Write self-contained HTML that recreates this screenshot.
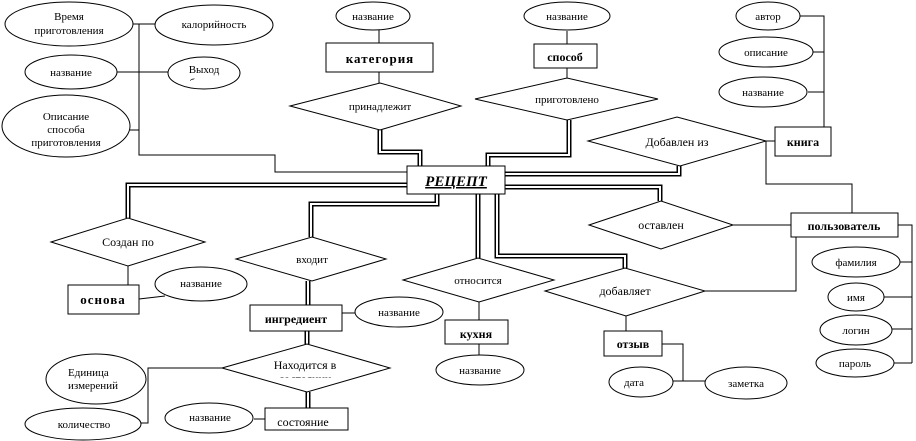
<!DOCTYPE html>
<html><head><meta charset="utf-8"><style>
html,body{margin:0;padding:0;background:#fff}
svg{display:block}
text{font-family:"Liberation Serif","DejaVu Serif",serif;font-size:11px;fill:#000}
.b{font-weight:bold;font-size:12px}
</style></head><body>
<svg width="916" height="441" viewBox="0 0 916 441" xmlns="http://www.w3.org/2000/svg">
<defs><clipPath id="c1"><rect x="0" y="0" width="916" height="378"/></clipPath>
<clipPath id="c2"><rect x="0" y="0" width="916" height="426"/></clipPath>
<clipPath id="c3"><rect x="0" y="0" width="916" height="81"/></clipPath></defs>
<g fill="none" stroke="#000" stroke-width="1">
<polyline points="133,24 155,24"/>
<polyline points="117,72 168,72"/>
<polyline points="130,130 139,130"/>
<polyline points="139,24 139,155 275,155 275,172 407,172"/>
<line x1="379" y1="30" x2="379" y2="43"/><line x1="379" y1="72" x2="379" y2="83"/>
<line x1="567" y1="31" x2="567" y2="44"/><line x1="567" y1="68" x2="567" y2="78"/>
<polyline points="800,16 824,16 824,127"/><line x1="813" y1="52" x2="824" y2="52"/><line x1="808" y1="92" x2="824" y2="92"/>
<line x1="766" y1="141" x2="775" y2="141"/>
<polyline points="766,141 766,184 852,184 852,213"/>
<line x1="733" y1="225" x2="792" y2="225"/>
<polyline points="898,225 912,225 912,363"/>
<line x1="900" y1="262" x2="912" y2="262"/><line x1="884" y1="297" x2="912" y2="297"/><line x1="892" y1="329" x2="912" y2="329"/><line x1="894" y1="363" x2="912" y2="363"/>
<polyline points="796,237 796,291 705,291"/>
<line x1="626" y1="316" x2="626" y2="331"/>
<polyline points="662,344 683,344 683,381"/><line x1="673" y1="381" x2="705" y2="381"/>
<line x1="479" y1="302" x2="479" y2="320"/><line x1="479" y1="344" x2="479" y2="355"/>
<line x1="128" y1="266" x2="128" y2="285"/><line x1="139" y1="299" x2="165" y2="296"/>
<line x1="342" y1="313" x2="355" y2="313"/>
<polyline points="222,368 148,368 148,423 141,423"/>
<line x1="254" y1="419" x2="265" y2="419"/>
</g>
<g fill="none" stroke="#000" stroke-width="5">
<polyline points="380,130 380,152 420,152 420,166"/>
<polyline points="569,120 569,155 488,155 488,166"/>
<polyline points="679,166 679,174 505,174"/>
<polyline points="505,187 660,187 660,201"/>
<polyline points="407,185 128,185 128,218"/>
<polyline points="437,194 437,204 311,204 311,237"/>
<polyline points="478,194 478,258"/>
<polyline points="497,194 497,256 625,256 625,268"/>
<line x1="308" y1="281" x2="308" y2="305"/>
<line x1="307" y1="331" x2="307" y2="344"/>
<line x1="308" y1="392" x2="308" y2="408"/>
</g>
<g fill="none" stroke="#fff" stroke-width="2">
<polyline points="380,130 380,152 420,152 420,166"/>
<polyline points="569,120 569,155 488,155 488,166"/>
<polyline points="679,166 679,174 505,174"/>
<polyline points="505,187 660,187 660,201"/>
<polyline points="407,185 128,185 128,218"/>
<polyline points="437,194 437,204 311,204 311,237"/>
<polyline points="478,194 478,258"/>
<polyline points="497,194 497,256 625,256 625,268"/>
<line x1="308" y1="281" x2="308" y2="305"/>
<line x1="307" y1="331" x2="307" y2="344"/>
<line x1="308" y1="392" x2="308" y2="408"/>
</g>
<g fill="#fff" stroke="#000" stroke-width="1">
<ellipse cx="69" cy="24" rx="64" ry="22"/>
<ellipse cx="214" cy="25" rx="59" ry="20"/>
<ellipse cx="71" cy="72" rx="46" ry="17"/>
<ellipse cx="204" cy="73" rx="36" ry="16"/>
<ellipse cx="66" cy="126" rx="64" ry="31"/>
<ellipse cx="373" cy="16" rx="37" ry="14"/>
<ellipse cx="567" cy="16" rx="43" ry="14"/>
<ellipse cx="768" cy="16" rx="32" ry="14"/>
<ellipse cx="766" cy="52" rx="47" ry="15"/>
<ellipse cx="763" cy="92" rx="44" ry="15"/>
<ellipse cx="856" cy="262" rx="44" ry="15"/>
<ellipse cx="856" cy="297" rx="28" ry="14"/>
<ellipse cx="856" cy="330" rx="36" ry="15"/>
<ellipse cx="855" cy="363" rx="39" ry="14"/>
<ellipse cx="641" cy="382" rx="32" ry="15"/>
<ellipse cx="746" cy="383" rx="41" ry="16"/>
<ellipse cx="480" cy="370" rx="44" ry="15"/>
<ellipse cx="201" cy="284" rx="46" ry="17"/>
<ellipse cx="399" cy="312" rx="44" ry="15"/>
<ellipse cx="96" cy="379" rx="50" ry="25"/>
<ellipse cx="83" cy="424" rx="58" ry="16"/>
<ellipse cx="209" cy="418" rx="44" ry="15"/>
<polygon points="290,106 380,83 461,106 380,130"/>
<polygon points="475,99 567,78 658,99 567,120"/>
<polygon points="588,141 677,117 766,141 680,166"/>
<polygon points="589,225 661,201 733,225 661,249"/>
<polygon points="545,291 625,268 705,291 626,316"/>
<polygon points="403,280 478,258 554,280 479,302"/>
<polygon points="51,242 128,218 205,242 128,266"/>
<polygon points="236,259 312,237 386,259 312,281"/>
<polygon points="222,368 307,344 390,368 307,392"/>
<rect x="326" y="43" width="107" height="29"/>
<rect x="534" y="44" width="63" height="24"/>
<rect x="775" y="127" width="56" height="29"/>
<rect x="407" y="166" width="98" height="28"/>
<rect x="791" y="213" width="107" height="24"/>
<rect x="604" y="331" width="58" height="25"/>
<rect x="445" y="320" width="63" height="24"/>
<rect x="68" y="285" width="71" height="29"/>
<rect x="250" y="305" width="92" height="26"/>
<rect x="265" y="408" width="83" height="22"/>
</g>
<g text-anchor="middle">
<text x="69" y="20">Время</text><text x="69" y="34">приготовления</text>
<text x="214" y="28">калорийность</text>
<text x="71" y="76">название</text>
<g clip-path="url(#c3)"><text x="204" y="73">Выход</text><text x="204" y="86">блюда</text></g>
<text x="66" y="120">Описание</text><text x="66" y="133">способа</text><text x="66" y="146">приготовления</text>
<text x="373" y="20">название</text>
<text x="380" y="63" class="b" style="font-size:13px;letter-spacing:1px">категория</text>
<text x="380" y="110">принадлежит</text>
<text x="567" y="20">название</text>
<text x="565" y="61" class="b">способ</text>
<text x="567" y="103">приготовлено</text>
<text x="768" y="20">автор</text>
<text x="766" y="56">описание</text>
<text x="763" y="96">название</text>
<text x="677" y="146" style="font-size:12px">Добавлен из</text>
<text x="803" y="146" class="b">книга</text>
<text x="456" y="186" style="font-size:15px;font-weight:bold;font-style:italic;text-decoration:underline">РЕЦЕПТ</text>
<text x="661" y="229" style="font-size:12px">оставлен</text>
<text x="844" y="230" class="b">пользователь</text>
<text x="856" y="266">фамилия</text>
<text x="856" y="301">имя</text>
<text x="856" y="334">логин</text>
<text x="855" y="367">пароль</text>
<text x="625" y="295" style="font-size:12px">добавляет</text>
<text x="633" y="348" class="b">отзыв</text>
<text x="634" y="386">дата</text>
<text x="746" y="387">заметка</text>
<text x="478" y="284">относится</text>
<text x="476" y="338" class="b">кухня</text>
<text x="480" y="374">название</text>
<text x="128" y="246" style="font-size:12px">Создан по</text>
<text x="103" y="304" class="b" style="font-size:13px;letter-spacing:1px">основа</text>
<text x="201" y="287">название</text>
<text x="312" y="263">входит</text>
<text x="296" y="323" class="b">ингредиент</text>
<text x="399" y="316">название</text>
<g clip-path="url(#c1)"><text x="305" y="369" style="font-size:12px">Находится в</text><text x="305" y="383" style="font-size:12px">состоянии</text></g>
<text x="210" y="421">название</text>
<g clip-path="url(#c2)"><text x="303" y="426" style="font-size:12px">состояние</text></g>
<text x="84" y="428">количество</text>
</g>
<text x="68" y="376">Единица</text><text x="68" y="389">измерений</text>
</svg>
</body></html>
